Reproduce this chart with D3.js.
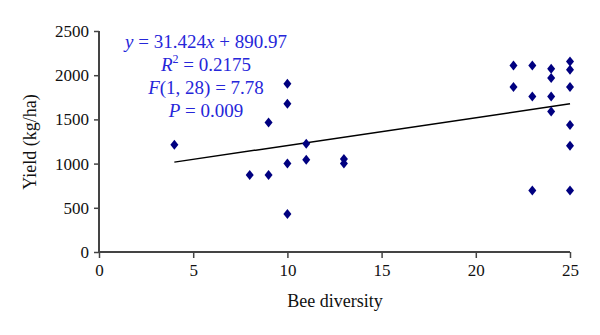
<!DOCTYPE html>
<html>
<head>
<meta charset="utf-8">
<script src="https://cdn.jsdelivr.net/npm/d3@7"></script>
<style>
  body { margin: 0; background: #fff; }
  text { font-family: "Liberation Serif", "DejaVu Serif", serif; }
</style>
</head>
<body>
<div id="chart"></div>
<script>
// bee diversity vs yield, one entry per field
var diversity = [4, 8, 9, 9, 10, 10, 10, 10, 11, 11, 13, 13, 22, 22, 23, 23, 23,
                 24, 24, 24, 24, 25, 25, 25, 25, 25, 25];
var yieldKg = [1214, 870, 870, 1466, 430, 1000, 1678, 1904, 1044, 1225, 1000, 1052, 1866, 2110,
               697, 1760, 2110, 1590, 1760, 1968, 2073, 697, 1202, 1437, 1866, 2062, 2156];
var xTicks = [0, 5, 10, 15, 20, 25];
var yTicks = [0, 500, 1000, 1500, 2000, 2500];
var slope = 31.424, intercept = 890.97;
var fitRange = [4, 25];

var W = 600, H = 335;
var margin = { top: 31, left: 99 };
var width = 570 - margin.left, height = 252 - margin.top;

var svg = d3.select("#chart").append("svg")
    .attr("width", W).attr("height", H);
var g = svg.append("g")
    .attr("transform", "translate(" + margin.left + "," + margin.top + ")");

var x = d3.scaleLinear().domain([0, 25]).range([0, width]);
var y = d3.scaleLinear().domain([0, 2500]).range([height, 0]);

var axisColor = "#444";

// x axis
var xa = g.append("g")
    .attr("transform", "translate(0," + height + ")")
    .call(d3.axisBottom(x).tickValues(xTicks).tickFormat(d3.format("d")).tickSize(6).tickPadding(6));
// y axis
var ya = g.append("g")
    .call(d3.axisLeft(y).tickValues(yTicks).tickFormat(d3.format("d")).tickSize(5).tickPadding(5));

[xa, ya].forEach(function(a) {
  a.attr("font-family", "'Liberation Serif', serif").attr("font-size", 17);
  a.select(".domain").attr("stroke", axisColor).attr("stroke-width", 2);
  a.selectAll(".tick line").attr("stroke", axisColor).attr("stroke-width", 1.5);
  a.selectAll(".tick text").attr("fill", "#111");
});
xa.select(".domain").attr("d", "M0,0H" + width);
ya.select(".domain").attr("d", "M0," + height + "V0");

// axis titles
svg.append("text")
    .attr("x", 335).attr("y", 307)
    .attr("text-anchor", "middle")
    .style("font-size", "18px")
    .attr("fill", "#111")
    .text("Bee diversity");

svg.append("text")
    .attr("transform", "translate(36,142) rotate(-90)")
    .attr("text-anchor", "middle")
    .style("font-size", "18px")
    .attr("fill", "#111")
    .text("Yield (kg/ha)");

// trend line
g.append("line")
    .attr("x1", x(fitRange[0])).attr("y1", y(slope * fitRange[0] + intercept))
    .attr("x2", x(fitRange[1])).attr("y2", y(slope * fitRange[1] + intercept))
    .attr("stroke", "#000").attr("stroke-width", 1.5);

// diamond points
var pts = diversity.map(function(d, i) { return { x: d, y: yieldKg[i] }; });
g.selectAll("path.pt")
    .data(pts)
    .enter().append("path")
    .attr("class", "pt")
    .attr("d", "M0,-5L4,0L0,5L-4,0Z")
    .attr("transform", function(d) { return "translate(" + x(d.x) + "," + y(d.y) + ")"; })
    .attr("fill", "#000080");

// regression stats text
var blue = "#2626d9";
var stats = svg.append("g")
    .attr("fill", blue)
    .style("font-size", "19px")
    .attr("text-anchor", "middle");

var t1 = stats.append("text").attr("x", 206).attr("y", 48);
t1.append("tspan").style("font-style", "italic").text("y");
t1.append("tspan").text(" = 31.424");
t1.append("tspan").style("font-style", "italic").text("x");
t1.append("tspan").text(" + 890.97");

var t2 = stats.append("text").attr("x", 206).attr("y", 71);
t2.append("tspan").style("font-style", "italic").text("R");
t2.append("tspan").attr("dy", -8).style("font-size", "12px").text("2");
t2.append("tspan").attr("dy", 8).text(" = 0.2175");

var t3 = stats.append("text").attr("x", 206).attr("y", 94);
t3.append("tspan").style("font-style", "italic").text("F");
t3.append("tspan").text("(1, 28) = 7.78");

var t4 = stats.append("text").attr("x", 206).attr("y", 117);
t4.append("tspan").style("font-style", "italic").text("P");
t4.append("tspan").text(" = 0.009");
</script>
</body>
</html>
